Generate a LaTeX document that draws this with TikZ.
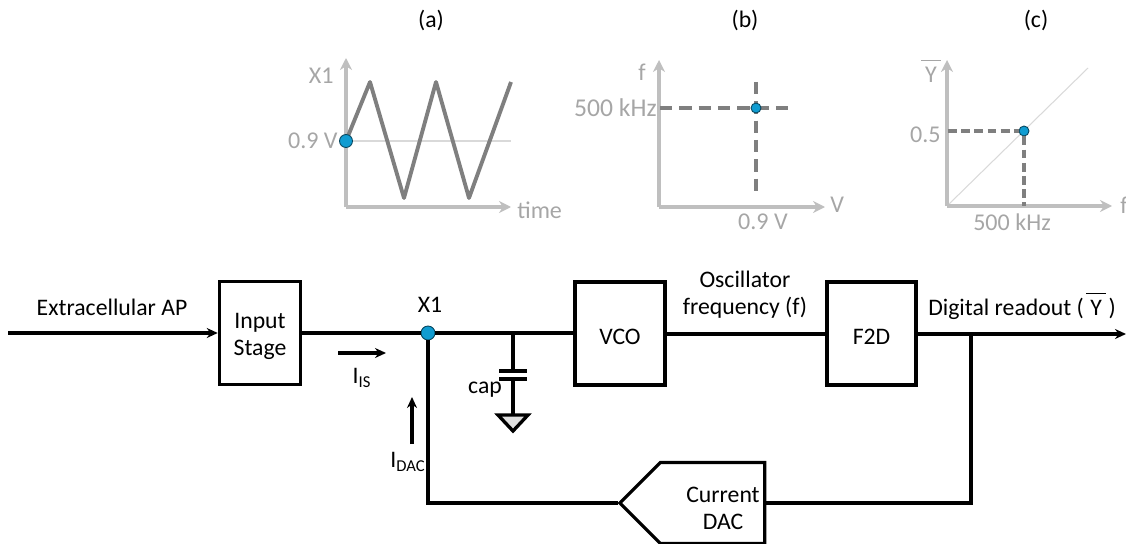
\documentclass[tikz,border=0pt]{standalone}
\usepackage{fontspec}
\setmainfont{Carlito}
\usepackage{tikz}
\usetikzlibrary{arrows.meta,shapes.symbols}
\definecolor{axisgray}{RGB}{191,191,191}
\definecolor{textgray}{RGB}{166,166,166}
\definecolor{wavegray}{RGB}{127,127,127}
\definecolor{dotblue}{RGB}{16,156,209}
\newcommand{\lowstrut}{\rule{0pt}{12.5pt}}
\newcommand{\ybarred}{$\overline{\mbox{\,\rule{0pt}{11.5pt}Y\,}}$}

\begin{document}
\begin{tikzpicture}[
    x=0.02cm, y=-0.02cm,
    block/.style={rectangle, draw=black, line width=2pt, minimum width=1.72cm, minimum height=2.06cm, align=center, font=\fontsize{13.5}{15.3}\selectfont},
    lbl/.style={font=\fontsize{13.5}{15.5}\selectfont, align=center},
    glbl/.style={font=\fontsize{13.7}{16}\selectfont, text=textgray, inner sep=0pt},
    wire/.style={line width=1.9pt, black},
    arr/.style={-{Stealth[length=2.2mm,width=2mm]}, line width=1.9pt, black},
    axisline/.style={-{Stealth[length=2.4mm,width=2.4mm]}, line width=1.8pt, axisgray},
    dashline/.style={line width=2pt, wavegray, dash pattern=on 7pt off 4pt},
    thin gray/.style={line width=0.6pt, black!15},
    dot/.style={circle, draw=black!55!dotblue, line width=0.5pt, fill=dotblue, inner sep=0pt}
]
    \useasboundingbox (0,0) rectangle (1126,544);

    % plot (a)
    \node[lbl] (tita) at (431,20) {(a)};
    \coordinate (oa) at (346,207);
    \coordinate (ya) at (346,58);
    \coordinate (xa) at (511,207);
    \draw[thin gray] (346,141) -- (511,141);
    \draw[axisline] (oa) -- (ya);
    \draw[axisline] (oa) -- (xa);
    \draw[line width=2.2pt, wavegray, line join=round] (346,141) -- (370,82) -- (404,198) -- (436,82) -- (469,198) -- (511,82);
    \node[dot, minimum size=0.26cm] (dota) at (346,141) {};
    \node[glbl, anchor=east] (xone) at (334,76) {X1};
    \node[glbl, anchor=east] (vola) at (338,141) {0.9 V};
    \node[glbl, anchor=west] (time) at (517,210) {time};

    % plot (b)
    \node[lbl] (titb) at (745,20) {(b)};
    \coordinate (ob) at (659,207);
    \coordinate (yb) at (659,60);
    \coordinate (xb) at (825,207);
    \draw[axisline] (ob) -- (yb);
    \draw[axisline] (ob) -- (xb);
    \coordinate (bl) at (660,108);
    \coordinate (br) at (790,108);
    \coordinate (bt) at (756,82);
    \coordinate (bb) at (756,196);
    \draw[dashline] (bl) -- (br);
    \draw[dashline] (bt) -- (bb);
    \node[dot, minimum size=0.2cm] (dotb) at (756,108) {};
    \node[glbl, anchor=east] (fb) at (646,72) {f};
    \node[glbl, anchor=east, font=\fontsize{14.6}{16}\selectfont] (khzb) at (657,108) {500 kHz};
    \node[glbl] (volb) at (763,222) {0.9 V};
    \node[glbl, anchor=west] (vb) at (830,205) {V};

    % plot (c)
    \node[lbl] (titc) at (1036,20) {(c)};
    \coordinate (oc) at (947,206);
    \coordinate (yc) at (947,60);
    \coordinate (xc) at (1112,206);
    \draw[thin gray] (oc) -- (1088,68);
    \draw[axisline] (oc) -- (yc);
    \draw[axisline] (oc) -- (xc);
    \coordinate (cl) at (948,131);
    \coordinate (cb) at (1024,206);
    \node[dot, minimum size=0.2cm] (dotc) at (1024,131) {};
    \draw[dashline, dash pattern=on 5pt off 2.5pt] (cl) -- (dotc);
    \draw[dashline, dash pattern=on 5pt off 2.5pt] (dotc) -- (cb);
    \node[glbl] (ybar) at (931,71) {\ybarred};
    \node[glbl, anchor=east] (half) at (941,135) {0.5};
    \node[glbl] (khzc) at (1012,222) {500 kHz};
    \node[glbl, anchor=west] (fc) at (1120,205) {f};

    % blocks
    \node[block, minimum width=1.62cm] (input) at (260,333) {\lowstrut Input\\Stage};
    \node[block, minimum width=1.8cm] (vco) at (620,333.5) {\lowstrut VCO};
    \node[block, minimum width=1.78cm] (f2d) at (871.5,333.5) {\lowstrut F2D};
    \node[signal, signal to=west, signal pointer angle=90, draw=black, line width=1.8pt, minimum width=2.9cm, minimum height=1.62cm] (dac) at (712.5,503) {};
    \node[lbl] (dactxt) at (723,508) {Current\\DAC};

    \coordinate (in) at (8,333);
    \coordinate (out) at (1126,334);
    \coordinate (fork) at (971,334);
    \coordinate (fb1) at (971,503);
    \coordinate (fb2) at (428,503);
    \node[dot, minimum size=0.28cm] (xnode) at (428,333) {};

    \draw[arr] (in) -- (input);
    \draw[wire] (input) -- (xnode);
    \draw[wire] (xnode) -- (xnode -| vco.west);
    \draw[wire] (vco.east |- out) -- (f2d.west |- out);
    \draw[arr] (f2d.east |- out) -- (out);
    \draw[wire] (fork) -- (fb1) -- (dac.east |- fb1);
    \draw[wire] (dac.west) -- (fb2) -- (xnode);

    % cap and ground
    \coordinate (ctop) at (513,333);
    \coordinate (cp1) at (513,371);
    \coordinate (cp2) at (513,379);
    \coordinate (gnd) at (513,415);
    \draw[wire] (ctop) -- (cp1);
    \draw[wire] (cp2) -- (gnd);
    \draw[wire] (499,371) -- (527,371);
    \draw[wire] (499,379) -- (527,379);
    \draw[wire, fill=black!12, line join=miter] (498,415) -- (528,415) -- (513,431) -- cycle;

    % currents
    \coordinate (is1) at (338,353);
    \coordinate (is2) at (386,353);
    \coordinate (da1) at (412,444);
    \coordinate (da2) at (412,397);
    \draw[arr] (is1) -- (is2);
    \draw[arr] (da1) -- (da2);
    \node[lbl] (iis) at (362,378) {I\textsubscript{IS}};
    \node[lbl] (idac) at (408,462) {I\textsubscript{DAC}};
    \node[lbl] (cap) at (485,390) {cap};
    \node[lbl] (xlab) at (430,305) {X1};
    \node[lbl] (eap) at (112,307) {Extracellular AP};
    \node[lbl] (osc) at (745,295) {Oscillator\\frequency (f)};
    \node[lbl] (read) at (1022,306) {Digital readout (\hspace{1.5pt}\ybarred\hspace{1.5pt})};
\end{tikzpicture}
\end{document}
